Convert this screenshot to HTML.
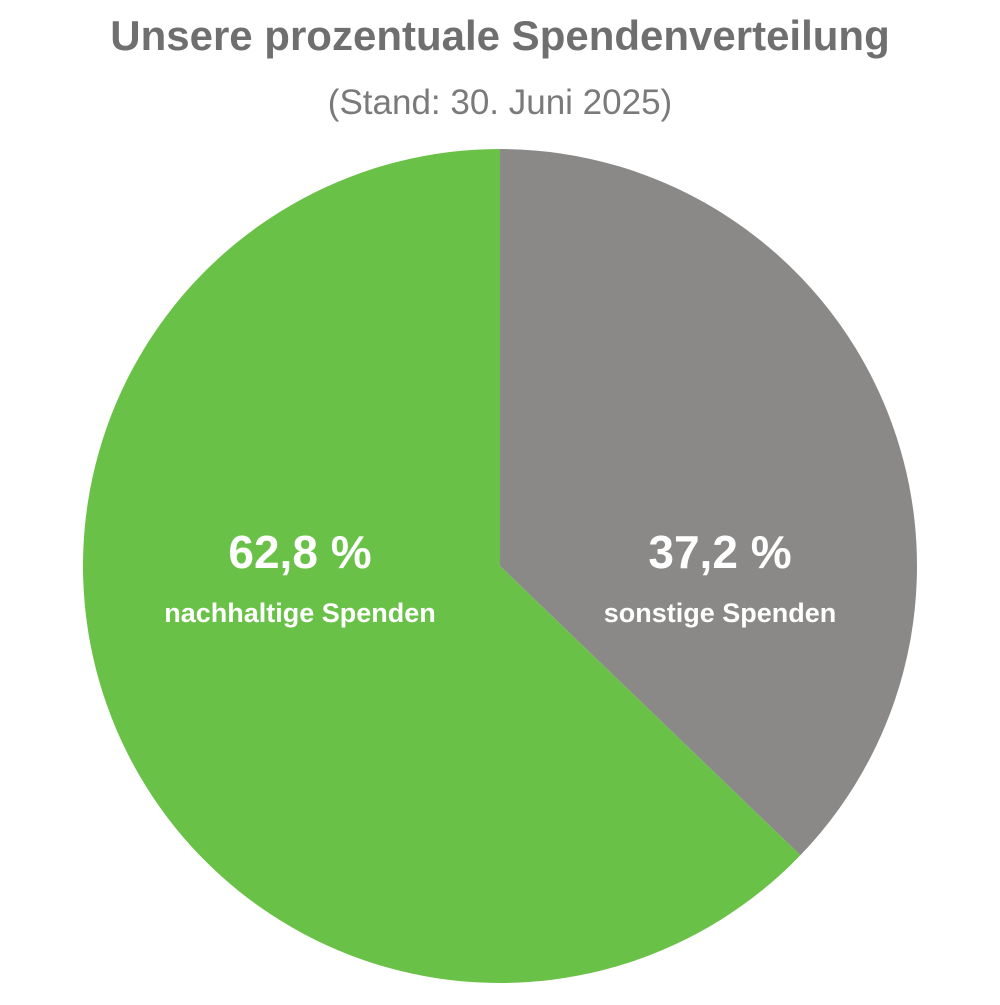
<!DOCTYPE html>
<html><head><meta charset="utf-8"><style>
body{margin:0;background:#fff;width:1000px;height:1000px;overflow:hidden;font-family:"Liberation Sans",sans-serif}
</style></head><body>
<svg width="1000" height="1000">
<text x="500" y="50" text-anchor="middle" font-size="42" font-weight="bold" fill="#6f6f6f" font-family="Liberation Sans, sans-serif">Unsere prozentuale Spendenverteilung</text>
<text x="500" y="114" text-anchor="middle" font-size="35" fill="#7a7a7a" font-family="Liberation Sans, sans-serif">(Stand: 30. Juni 2025)</text>
<g id="slices"></g>
<g id="labels"></g>
</svg>
<script>
const categories=["sonstige Spenden","nachhaltige Spenden"];
const values=[37.2,62.8];
const valueLabels=["37,2 %","62,8 %"];
const colors=["#8a8987","#6ac148"];
const cx=500,cy=566,r=417;
const ns="http://www.w3.org/2000/svg";
const total=values.reduce((a,b)=>a+b,0);
let a0=0;
const sl=document.getElementById('slices'),lb=document.getElementById('labels');
function pt(a,rr){return [cx+rr*Math.sin(a),cy-rr*Math.cos(a)];}
values.forEach((v,i)=>{
  const a1=a0+v/total*2*Math.PI;
  const p0=pt(a0,r),p1=pt(a1,r);
  const large=(a1-a0)>Math.PI?1:0;
  const p=document.createElementNS(ns,'path');
  p.setAttribute('d',`M${cx},${cy}L${p0[0]},${p0[1]}A${r},${r} 0 ${large} 1 ${p1[0]},${p1[1]}Z`);
  p.setAttribute('fill',colors[i]);
  
  
  sl.appendChild(p);
  const lx=i===0?cx+220:cx-200;
  const t=document.createElementNS(ns,'text');
  t.setAttribute('x',lx);t.setAttribute('y',568);
  t.setAttribute('text-anchor','middle');t.setAttribute('font-size','46');
  t.setAttribute('font-weight','bold');t.setAttribute('fill','#fff');
  t.textContent=valueLabels[i];
  
  
  lb.appendChild(t);
  const t2=document.createElementNS(ns,'text');
  t2.setAttribute('x',lx);t2.setAttribute('y',622);
  t2.setAttribute('text-anchor','middle');t2.setAttribute('font-size','27');
  t2.setAttribute('font-weight','bold');t2.setAttribute('fill','#fff');
  t2.textContent=categories[i];
  
  
  lb.appendChild(t2);
  a0=a1;
});
</script>
</body></html>
